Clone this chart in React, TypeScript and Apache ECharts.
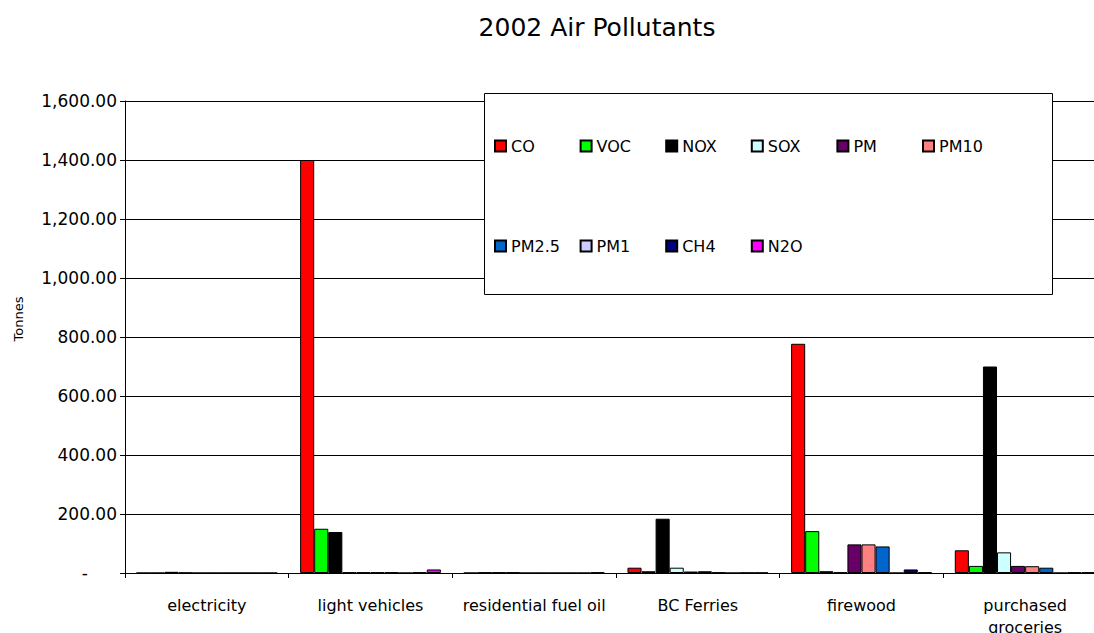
import React, { useEffect, useRef } from "react";
import * as echarts from "echarts";

const categories = [
  "electricity",
  "light vehicles",
  "residential fuel oil",
  "BC Ferries",
  "firewood",
  "purchased\ngroceries",
];

const seriesNames = ["CO", "VOC", "NOX", "SOX", "PM", "PM10", "PM2.5", "PM1", "CH4", "N2O"];
const seriesColors = [
  "#FF0000",
  "#00FF00",
  "#000000",
  "#CCFFFF",
  "#660066",
  "#FF8080",
  "#0066CC",
  "#CCCCFF",
  "#000080",
  "#FF00FF",
];

// Tonnes per source, one array per pollutant (same order as categories)
const co = [0, 1400, 0, 18, 777, 77];
const voc = [0, 150, 2, 6, 142, 24];
const nox = [4, 139, 2, 184, 6, 700];
const sox = [1, 2, 2, 18, 2, 70];
const pm = [0, 2, 0, 5, 97, 24];
const pm10 = [0, 2, 0, 6, 97, 23];
const pm25 = [0, 2, 0, 2, 90, 18];
const pm1 = [0, 0, 0, 0, 0, 0];
const ch4 = [0, 2, 0, 1, 12, 2];
const n2o = [0, 12, 2, 1, 2, 2];

const seriesValues = [co, voc, nox, sox, pm, pm10, pm25, pm1, ch4, n2o];

const yTicks = { min: 0, max: 1600, interval: 200 };

const FONT = "DejaVu Sans, Verdana, sans-serif";

// legend grid: 6 entries per row, fixed column pitch
const LEGEND_PER_ROW = 6;
const LEGEND_LEFT = 494;
const LEGEND_PITCH = 85.6;
const LEGEND_ROW_TOPS = [138, 238];

export default function App() {
  const ref = useRef<HTMLDivElement>(null);

  useEffect(() => {
    document.body.style.margin = "0";
    if (!ref.current) return;
    const chart = echarts.init(ref.current, undefined, { renderer: "svg" });

    const legends = seriesNames.map((name, i) => ({
      orient: "horizontal" as const,
      padding: 0,
      itemWidth: 11,
      itemHeight: 11,
      itemGap: 5,
      icon: "rect",
      selectedMode: false,
      z: 20,
      data: [name],
      left: LEGEND_LEFT + (i % LEGEND_PER_ROW) * LEGEND_PITCH,
      top: LEGEND_ROW_TOPS[Math.floor(i / LEGEND_PER_ROW)],
      textStyle: { fontFamily: FONT, fontSize: 16, color: "#000" },
    }));

    chart.setOption({
      animation: false,
      backgroundColor: "#fff",
      textStyle: { fontFamily: FONT },
      grid: {
        left: 125,
        top: 101,
        width: 982,
        height: 472,
        containLabel: false,
        outerBoundsMode: "none",
      },
      legend: legends,
      graphic: [
        {
          type: "text",
          x: 597,
          y: 27,
          z: 30,
          style: {
            text: "2002 Air Pollutants",
            fontFamily: FONT,
            fontSize: 25,
            fill: "#000",
            textAlign: "center",
            textVerticalAlign: "middle",
          },
        },
        {
          type: "text",
          x: 18,
          y: 319,
          rotation: Math.PI / 2,
          z: 30,
          style: {
            text: "Tonnes",
            fontFamily: FONT,
            fontSize: 13,
            fill: "#000",
            textAlign: "center",
            textVerticalAlign: "middle",
          },
        },
        {
          type: "rect",
          z: 10,
          shape: { x: 484.5, y: 93.5, width: 568, height: 201 },
          style: { fill: "#fff", stroke: "#000", lineWidth: 1 },
        },
      ],
      xAxis: {
        type: "category",
        data: categories,
        axisLine: { lineStyle: { color: "#000", width: 1 } },
        axisTick: { show: true, length: 5, lineStyle: { color: "#000" } },
        axisLabel: {
          interval: 0,
          fontFamily: FONT,
          fontSize: 16,
          color: "#000",
          margin: 21,
          lineHeight: 22,
        },
      },
      yAxis: {
        type: "value",
        min: yTicks.min,
        max: yTicks.max,
        interval: yTicks.interval,
        axisLine: { show: true, lineStyle: { color: "#000", width: 1 } },
        axisTick: { show: true, length: 5, lineStyle: { color: "#000" } },
        splitLine: { show: true, lineStyle: { color: "#000", width: 1 } },
        axisLabel: {
          fontFamily: FONT,
          fontSize: 17,
          color: "#000",
          margin: 8,
          formatter: (v: number) =>
            v === 0
              ? "{dash|-}"
              : v.toLocaleString("en-US", { minimumFractionDigits: 2, maximumFractionDigits: 2 }),
          rich: {
            dash: { fontFamily: FONT, fontSize: 17, color: "#000", padding: [0, 29, 0, 0] },
          },
        },
      },
      series: seriesNames.map((name, i) => ({
        name,
        type: "bar",
        data: seriesValues[i],
        barGap: "0%",
        barCategoryGap: "14%",
        itemStyle: { color: seriesColors[i], borderColor: "#000", borderWidth: 1 },
      })),
    });

    return () => chart.dispose();
  }, []);

  return <div ref={ref} style={{ width: 1094, height: 633 }} />;
}
